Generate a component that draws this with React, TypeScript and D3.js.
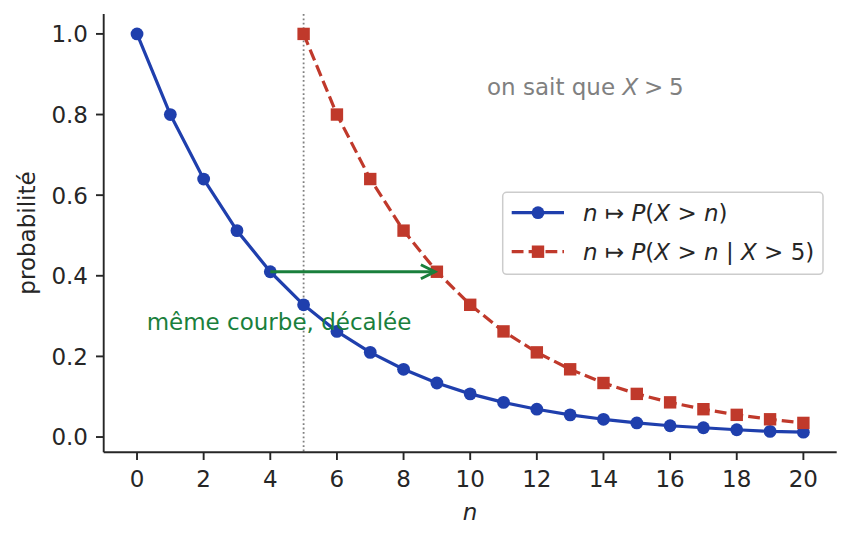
import React from "react";
import * as d3 from "d3";

const nBlue = [0, 1, 2, 3, 4, 5, 6, 7, 8, 9, 10, 11, 12, 13, 14, 15, 16, 17, 18, 19, 20];
const pBlue = [1.0, 0.8, 0.64, 0.512, 0.41, 0.328, 0.262, 0.21, 0.168, 0.134, 0.107, 0.086, 0.069, 0.055, 0.044, 0.035, 0.028, 0.023, 0.018, 0.014, 0.012];
const nRed = [5, 6, 7, 8, 9, 10, 11, 12, 13, 14, 15, 16, 17, 18, 19, 20];
const pRed = [1.0, 0.8, 0.64, 0.512, 0.41, 0.328, 0.262, 0.21, 0.168, 0.134, 0.107, 0.086, 0.069, 0.055, 0.044, 0.035];
const xTicks = [0, 2, 4, 6, 8, 10, 12, 14, 16, 18, 20];
const yTicks = [0.0, 0.2, 0.4, 0.6, 0.8, 1.0];
const knownN = 5;
const arrowFrom = 4;
const arrowTo = 9;
const arrowY = 0.41;

const W = 851;
const H = 541;
const FONT = "DejaVu Sans";
const FS = 23;
const BLUE = "#1f3fad";
const RED = "#c0392b";
const GREEN = "#1a7f3c";
const GRAY = "#808080";
const AX = "#262626";

export default function App() {
  const x = d3.scaleLinear().domain([-1, 21]).range([103.7, 836.7]);
  const y = d3.scaleLinear().domain([-0.0379, 1.0494]).range([452.3, 14]);
  const line = d3
    .line<[number, number]>()
    .x((d) => x(d[0]))
    .y((d) => y(d[1]));
  const blueData: [number, number][] = nBlue.map((n, i) => [n, pBlue[i]]);
  const redData: [number, number][] = nRed.map((n, i) => [n, pRed[i]]);
  const lw = 3.2;
  const ms = 6.4;
  const sq = 12.4;

  const ax0 = x(arrowFrom);
  const ax1 = x(arrowTo) - 2;
  const ay = y(arrowY);

  const legX = 502.7;
  const legY = 192.3;
  const legW = 320.3;
  const legH = 82;
  const row1 = 212.7;
  const row2 = 251.7;

  return (
    <svg
      width={W}
      height={H}
      style={{ position: "absolute", left: 0, top: 0, background: "#fff" }}
      fontFamily={FONT}
    >
      <rect x={0} y={0} width={W} height={H} fill="#fff" />
      <line
        x1={x(knownN)}
        x2={x(knownN)}
        y1={14}
        y2={452.3}
        stroke={GRAY}
        strokeWidth={1.8}
        strokeDasharray="1.8,2.6"
      />
      <path d={line(blueData) || ""} fill="none" stroke={BLUE} strokeWidth={lw} strokeLinejoin="round" />
      {blueData.map((d, i) => (
        <circle key={"b" + i} cx={x(d[0])} cy={y(d[1])} r={ms} fill={BLUE} />
      ))}
      <path
        d={line(redData) || ""}
        fill="none"
        stroke={RED}
        strokeWidth={lw}
        strokeDasharray="11.8,5.1"
      />
      {redData.map((d, i) => (
        <rect key={"r" + i} x={x(d[0]) - sq / 2} y={y(d[1]) - sq / 2} width={sq} height={sq} fill={RED} />
      ))}
      <line x1={ax0} x2={ax1} y1={ay} y2={ay} stroke={GREEN} strokeWidth={3} />
      <path
        d={`M${ax1 - 14},${ay - 7} L${ax1},${ay} L${ax1 - 14},${ay + 7}`}
        fill="none"
        stroke={GREEN}
        strokeWidth={3}
        strokeLinejoin="miter"
      />
      <text x={279} y={330} fontSize={FS} fill={GREEN} textAnchor="middle">
        même courbe, décalée
      </text>
      <text x={487} y={95} fontSize={FS} fill={GRAY}>
        on sait que <tspan fontStyle="italic">X</tspan>{"\u2005>\u20055"}
      </text>
      <line x1={103.7} x2={103.7} y1={14} y2={452.3} stroke={AX} strokeWidth={1.9} />
      <line x1={103.7} x2={836.7} y1={452.3} y2={452.3} stroke={AX} strokeWidth={1.9} />
      {xTicks.map((t) => (
        <g key={"xt" + t}>
          <line x1={x(t)} x2={x(t)} y1={452.3} y2={460} stroke={AX} strokeWidth={1.9} />
          <text x={x(t)} y={487} fontSize={FS} textAnchor="middle" fill={AX}>
            {t}
          </text>
        </g>
      ))}
      {yTicks.map((t) => (
        <g key={"yt" + t}>
          <line x1={96} x2={103.7} y1={y(t)} y2={y(t)} stroke={AX} strokeWidth={1.9} />
          <text x={88} y={y(t) + 8.4} fontSize={FS} textAnchor="end" fill={AX}>
            {t.toFixed(1)}
          </text>
        </g>
      ))}
      <text x={470} y={520} fontSize={FS} textAnchor="middle" fontStyle="italic" fill={AX}>
        n
      </text>
      <text
        transform={`translate(35,233) rotate(-90)`}
        fontSize={FS}
        textAnchor="middle"
        fill={AX}
      >
        probabilité
      </text>
      <rect
        x={legX}
        y={legY}
        width={legW}
        height={legH}
        rx={4}
        fill="#fff"
        fillOpacity={0.8}
        stroke="#cccccc"
        strokeWidth={1.5}
      />
      <line x1={511.7} x2={564} y1={row1} y2={row1} stroke={BLUE} strokeWidth={lw} />
      <circle cx={538} cy={row1} r={ms} fill={BLUE} />
      <text x={583} y={row1 + 8.6} fontSize={FS} fill={AX}>
        <tspan fontStyle="italic">n</tspan> ↦ <tspan fontStyle="italic">P</tspan>(
        <tspan fontStyle="italic">X</tspan> &gt; <tspan fontStyle="italic">n</tspan>)
      </text>
      <line
        x1={511.7}
        x2={564}
        y1={row2}
        y2={row2}
        stroke={RED}
        strokeWidth={lw}
        strokeDasharray="11.8,5.1"
      />
      <rect x={538 - sq / 2} y={row2 - sq / 2} width={sq} height={sq} fill={RED} />
      <text x={583} y={row2 + 8.6} fontSize={FS} fill={AX}>
        <tspan fontStyle="italic">n</tspan> ↦ <tspan fontStyle="italic">P</tspan>(
        <tspan fontStyle="italic">X</tspan> &gt; <tspan fontStyle="italic">n</tspan> | <tspan fontStyle="italic">X</tspan> &gt; 5)
      </text>
    </svg>
  );
}
